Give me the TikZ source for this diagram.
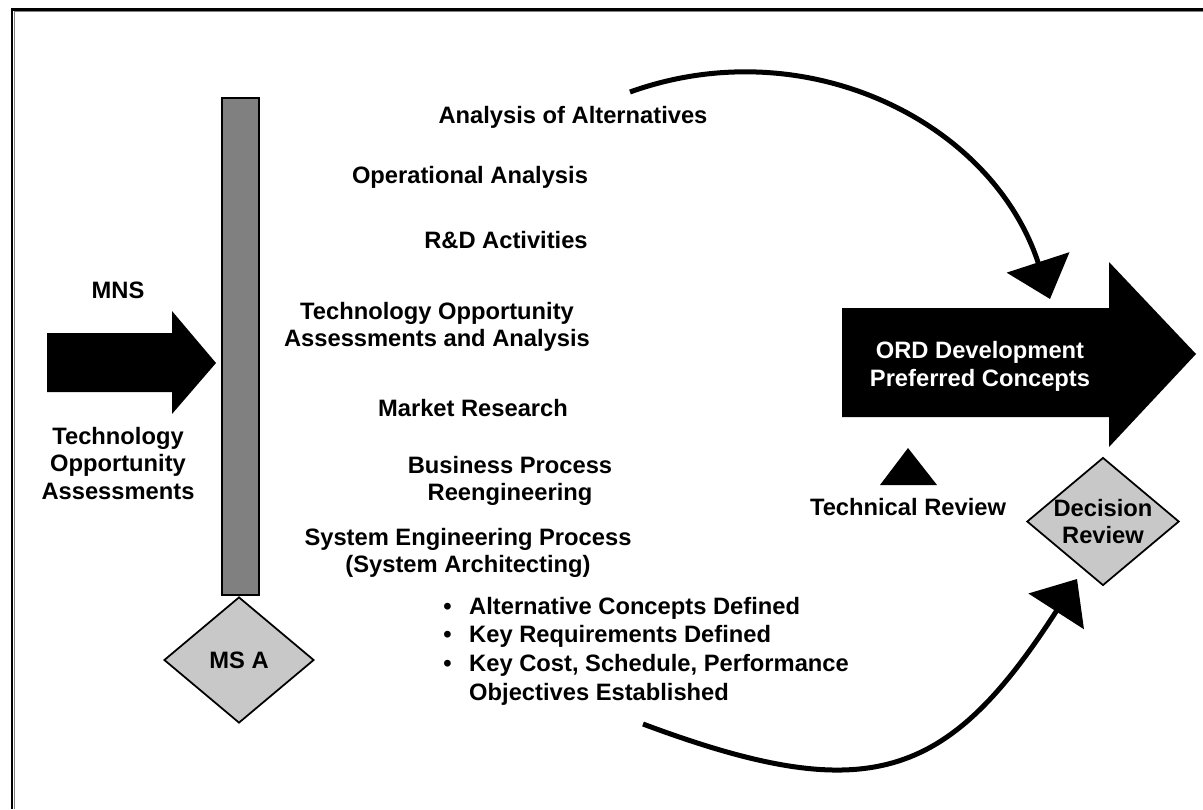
\documentclass[tikz,border=0pt]{standalone}
\usepackage{fontspec}
\setmainfont{Liberation Sans}
\usetikzlibrary{arrows.meta,shapes.geometric}
\definecolor{bargray}{HTML}{808080}
\definecolor{msgray}{HTML}{C8C8C8}

\begin{document}
\begin{tikzpicture}[x=0.02cm, y=-0.02cm,
    lbl/.style={font=\fontsize{13.5}{15.6}\selectfont\bfseries, align=center, inner sep=0pt},
    msdiamond/.style={diamond, draw, line width=1pt, fill=msgray, minimum width=3cm, minimum height=2.52cm, inner sep=0pt, aspect=1.19},
    cyclearrow/.style={line width=0.1cm, -{Triangle[width=1.3cm, length=0.77cm]}}]

    \useasboundingbox (0,0) rectangle (1203,809);
    \fill[white] (0,0) rectangle (1203,809);

    % frame
    \draw[line width=0.06cm] (12,809) |- (1203,9);
    \draw[gray, line width=0.02cm] (14.5,809) |- (1203,11.5);

    % milestone A
    \node[draw, line width=1pt, fill=bargray, minimum width=0.74cm, minimum height=9.94cm, inner sep=0pt] (bar) at (240.5,346.5) {};
    \node[msdiamond, lbl] (msa) at (239,660) {MS A};

    % inputs
    \fill (47,333) -- (172,333) -- (172,311) -- (216,363) -- (172,414) -- (172,392) -- (47,392) -- cycle;
    \node[lbl] (mns) at (118,290) {MNS};
    \node[lbl] (toa) at (118,463.5) {Technology\\Opportunity\\Assessments};

    % activities
    \begin{scope}[every node/.style={lbl}]
        \node (aoa) at (573,117) {Analysis of Alternatives};
        \node (opa) at (470,177) {Operational Analysis};
        \node (rnd) at (506,240) {R\&D Activities};
        \node (toaa) at (437,327) {Technology Opportunity\\Assessments and Analysis};
        \node (mkt) at (473,408) {Market Research};
        \node (bpr) at (510,481) {Business Process\\Reengineering};
        \node (sep) at (468,553) {System Engineering Process\\(System Architecting)};
        \node[anchor=west, align=left, font=\fontsize{13.5}{16.4}\selectfont\bfseries] (objs) at (443,651.5)
            {\begin{tabular}{@{}l@{\hspace{10pt}}l@{}}
                \textbullet & Alternative Concepts Defined\\
                \textbullet & Key Requirements Defined\\
                \textbullet & Key Cost, Schedule, Performance\\
                            & Objectives Established
            \end{tabular}};
    \end{scope}

    % output
    \fill (842,308) -- (1109,308) -- (1109,262) -- (1196,354) -- (1109,447) -- (1109,417) -- (842,417) -- cycle;
    \node[lbl, text=white] (ord) at (980,366.5) {ORD Development\\Preferred Concepts};

    \fill (908,448) -- (937,485) -- (880,485) -- cycle;
    \node[lbl] (tr) at (908,507) {Technical Review};
    \node[msdiamond, lbl] (dr) at (1103,521.5) {Decision\\Review};

    % loop
    \coordinate (aoastart) at (630,92);
    \coordinate (ordin) at (1050,299);
    \draw[cyclearrow] (aoastart) .. controls (805,29) and (992,121) .. (ordin);
    \coordinate (objend) at (643,724);
    \coordinate (drin) at (1077,579);
    \draw[cyclearrow] (objend) .. controls (868,808) and (947,781) .. (drin);
\end{tikzpicture}
\end{document}
